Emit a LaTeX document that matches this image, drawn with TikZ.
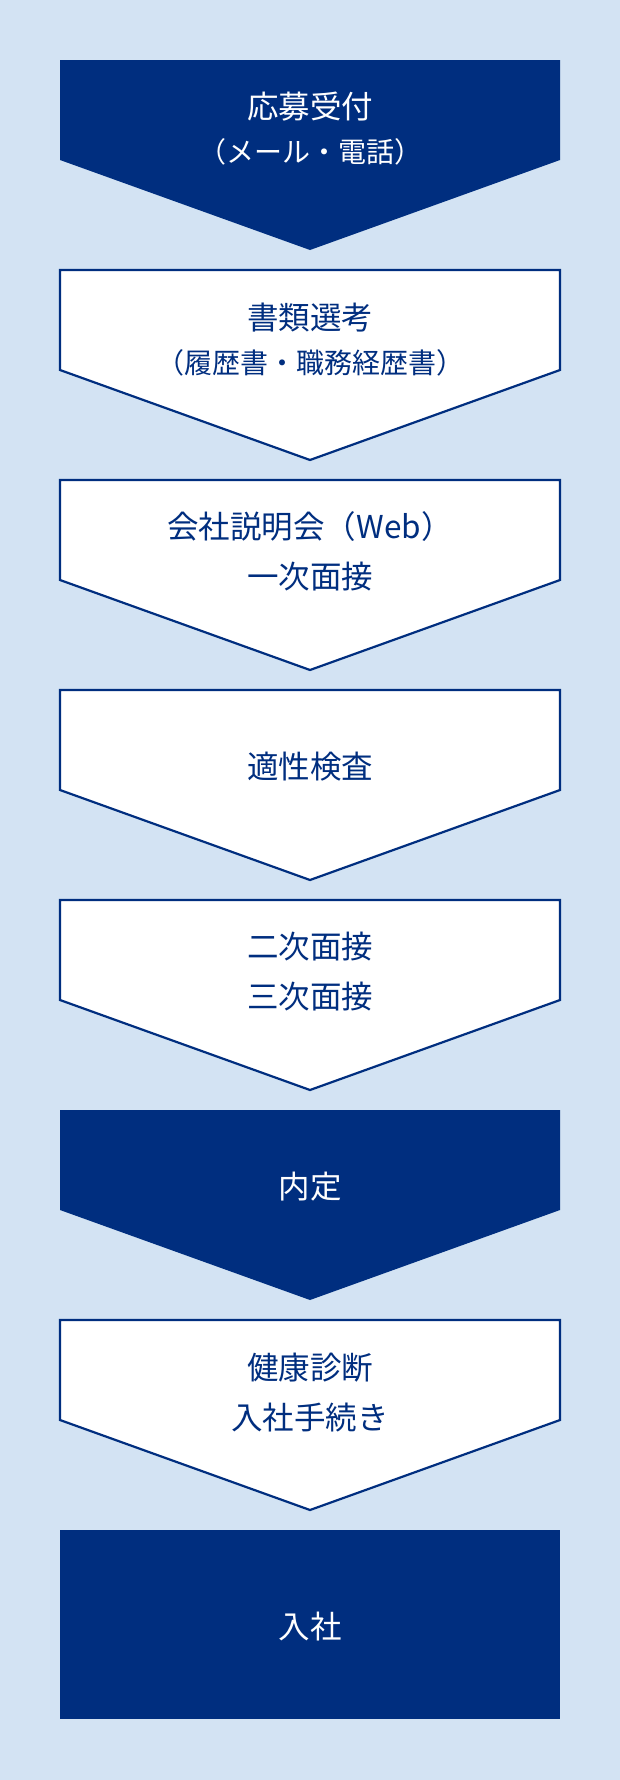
\documentclass[tikz,border=0pt]{standalone}
\usepackage{fontspec}
\newfontfamily\jpfont{Noto Sans CJK JP}
\usepackage{tikz}
\usetikzlibrary{positioning}
\definecolor{navy}{RGB}{0,46,127}
\definecolor{paleblue}{RGB}{211,227,243}

\begin{document}
\begin{tikzpicture}[
          x=1pt, y=-1pt,
          darkstep/.style={fill=navy, draw=none},
          lightstep/.style={fill=white, draw=navy, line width=2.2pt},
          title/.style={font=\jpfont\fontsize{31.5}{36}\selectfont, inner sep=0pt, text height=28pt, text depth=4pt},
          note/.style={font=\jpfont\fontsize{28}{32}\selectfont, inner sep=0pt, text height=24.5pt, text depth=3.5pt},
          node distance=18pt
        ]

        % Background
        \fill[paleblue] (0,0) rectangle (620,1780);
        \useasboundingbox (0,0) rectangle (620,1780);

        % Chevrons, one per step
        \path[darkstep]  (60,60)   -- (560,60)   -- (560,160)  -- (310,250)  -- (60,160)  -- cycle;
        \path[lightstep] (60,270)  -- (560,270)  -- (560,370)  -- (310,460)  -- (60,370)  -- cycle;
        \path[lightstep] (60,480)  -- (560,480)  -- (560,580)  -- (310,670)  -- (60,580)  -- cycle;
        \path[lightstep] (60,690)  -- (560,690)  -- (560,790)  -- (310,880)  -- (60,790)  -- cycle;
        \path[lightstep] (60,900)  -- (560,900)  -- (560,1000) -- (310,1090) -- (60,1000) -- cycle;
        \path[darkstep]  (60,1110) -- (560,1110) -- (560,1210) -- (310,1300) -- (60,1210) -- cycle;
        \path[lightstep] (60,1320) -- (560,1320) -- (560,1420) -- (310,1510) -- (60,1420) -- cycle;

        % Last step
        \path[darkstep] (60,1530) rectangle (560,1719);

        % Step labels
        \node[title, text=white] (apply) at (310,106) {応募受付};
        \node[note, text=white, below=16pt of apply] (applynote) {（メール・電話）};

        \node[title, text=navy] (documents) at (310,317) {書類選考};
        \node[note, text=navy, below=16pt of documents] (documentsnote) {（履歴書・職務経歴書）};

        \node[title, text=navy] (briefing) at (310,526) {会社説明会（Web）};
        \node[title, text=navy, below=of briefing] (firstint) {一次面接};

        \node[title, text=navy] (aptitude) at (310,766) {適性検査};

        \node[title, text=navy] (secondint) at (310,946) {二次面接};
        \node[title, text=navy, below=of secondint] (thirdint) {三次面接};

        \node[title, text=white] (offer) at (310,1186) {内定};

        \node[title, text=navy] (medical) at (310,1367) {健康診断};
        \node[title, text=navy, below=of medical] (procedure) {入社手続き};

        \node[title, text=white] (joining) at (310,1626) {入社};

      \end{tikzpicture}
\end{document}
